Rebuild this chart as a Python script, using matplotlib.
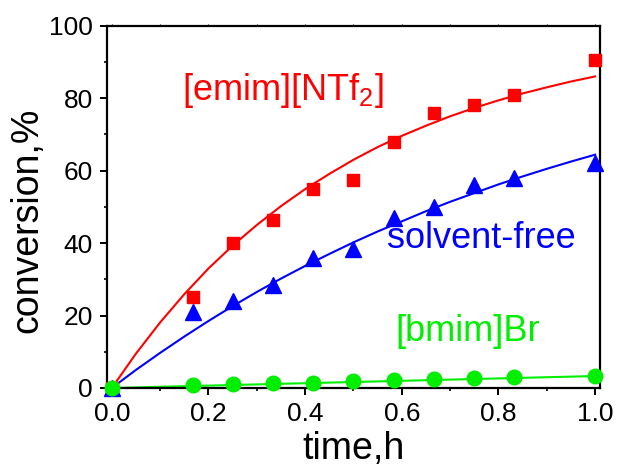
import matplotlib
matplotlib.use("Agg")
import matplotlib.pyplot as plt
from matplotlib.ticker import MultipleLocator

plt.rcParams['font.family'] = ['Liberation Sans', 'DejaVu Sans']
plt.rcParams['mathtext.fontset'] = 'custom'
plt.rcParams['mathtext.rm'] = 'Liberation Sans'
plt.rcParams['mathtext.it'] = 'Liberation Sans'

# measured data
time_h = [0.0, 0.167, 0.25, 0.333, 0.417, 0.5, 0.583, 0.667, 0.75, 0.833, 1.0]
emim = [0.0, 25.0, 40.0, 46.5, 55.0, 57.5, 68.0, 76.0, 78.0, 81.0, 90.5]
solvent_free = [0.0, 21.0, 24.0, 28.5, 36.0, 38.5, 47.0, 50.0, 56.0, 58.0, 62.0]
bmim = [0.0, 0.8, 1.0, 1.3, 1.5, 1.8, 2.1, 2.4, 2.7, 3.0, 3.2]

# fitted curves
fit_t = [0.0, 0.05, 0.1, 0.15, 0.2, 0.25, 0.3, 0.35, 0.4, 0.45, 0.5,
         0.55, 0.6, 0.65, 0.7, 0.75, 0.8, 0.85, 0.9, 0.95, 1.0]
fit_emim = [0.0, 9.5, 18.1, 25.9, 33.0, 39.3, 45.0, 50.2, 54.9, 59.1, 63.0,
            66.5, 69.6, 72.4, 75.0, 77.3, 79.4, 81.3, 83.0, 84.6, 86.0]
fit_solvent = [0.0, 5.0, 9.7, 14.2, 18.5, 22.6, 26.5, 30.2, 33.7, 37.0, 40.2,
               43.2, 46.0, 48.8, 51.4, 53.8, 56.2, 58.4, 60.5, 62.5, 64.4]
fit_bmim_t = [0.0, 1.0]
fit_bmim = [0.0, 3.3]

RED = '#ff0000'
BLUE = '#0000ff'
GREEN = '#00ee00'

fig = plt.figure(figsize=(6.17, 4.66), dpi=100)
ax = fig.add_axes([0.1734, 0.1674, 0.799, 0.7774])

ax.plot(fit_t, fit_emim, color=RED, lw=1.5, zorder=2)
ax.plot(fit_t, fit_solvent, color=BLUE, lw=1.5, zorder=2)
ax.plot(fit_bmim_t, fit_bmim, color=GREEN, lw=1.5, zorder=2)

ax.plot(time_h, emim, 's', color=RED, ms=9, mec=RED, zorder=3, clip_on=False)
ax.plot(time_h, solvent_free, '^', color=BLUE, ms=11, mec=BLUE, zorder=3, clip_on=False)
ax.plot(time_h, bmim, 'o', color=GREEN, ms=10.5, mec=GREEN, zorder=3, clip_on=False)

ax.set_xlim(-0.01, 1.01)
ax.set_ylim(0, 100)
ax.xaxis.set_major_locator(MultipleLocator(0.2))
ax.xaxis.set_minor_locator(MultipleLocator(0.1))
ax.yaxis.set_major_locator(MultipleLocator(20))
ax.yaxis.set_minor_locator(MultipleLocator(10))
ax.xaxis.set_major_formatter(matplotlib.ticker.FormatStrFormatter('%.1f'))

for s in ax.spines.values():
    s.set_linewidth(1.6)

ax.tick_params(axis='both', which='major', direction='out', length=5, width=1.4,
               labelsize=19, pad=5)
ax.tick_params(axis='both', which='minor', direction='out', length=2.5, width=1.2)
ax.tick_params(axis='x', which='both', top=True)
ax.tick_params(axis='x', which='major', top=True)
ax.xaxis.get_major_ticks()  # ensure created
for t in ax.xaxis.get_major_ticks() + ax.xaxis.get_minor_ticks():
    t.tick2line.set_markersize(1.5)
    t.tick2line.set_markeredgewidth(0.8)

ax.set_xlabel('time,h', fontsize=27)
ax.set_ylabel('conversion,%', fontsize=27)
ax.xaxis.set_label_coords(0.5, -0.12)
ax.yaxis.set_label_coords(-0.125, 0.464)

ax.text(0.145, 79.5, '[emim][NTf$_2$]', color=RED, fontsize=26)
ax.text(0.569, 38.6, 'solvent-free', color=BLUE, fontsize=26)
ax.text(0.586, 12.9, '[bmim]Br', color=GREEN, fontsize=26)

fig.savefig('out.png', dpi=100)
